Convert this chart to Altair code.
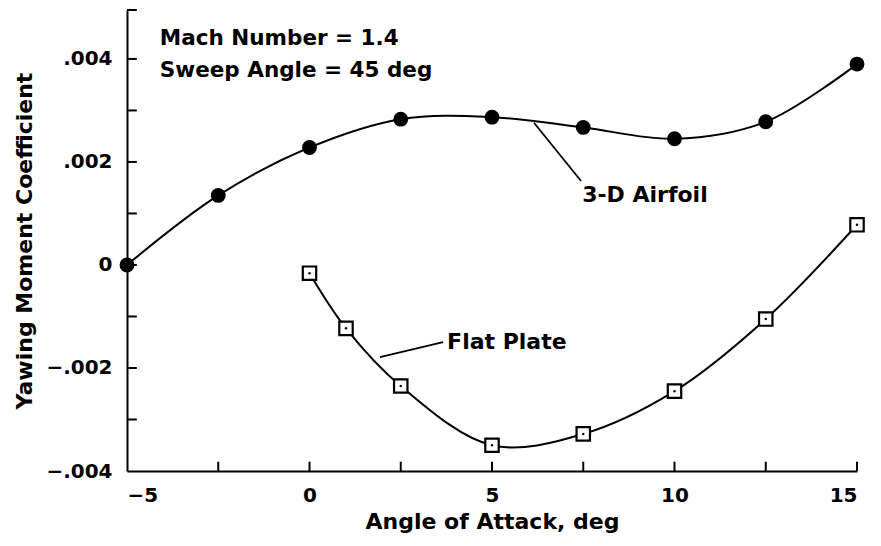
import altair as alt
import pandas as pd

# --- data ---
alpha_airfoil = [-5, -2.5, 0, 2.5, 5, 7.5, 10, 12.5, 15]
cn_airfoil = [0.0000, 0.00135, 0.00228, 0.00283, 0.00287, 0.00267, 0.00245, 0.00278, 0.00390]

alpha_plate = [0, 1, 2.5, 5, 7.5, 10, 12.5, 15]
cn_plate = [-0.00016, -0.00123, -0.00235, -0.00350, -0.00328, -0.00245, -0.00105, 0.00078]

x_label_values = [-5, 0, 5, 10, 15]
y_label_values = [-0.004, -0.002, 0, 0.002, 0.004]
x_tick_values = [-2.5, 0, 2.5, 5, 7.5, 10, 12.5, 15]
y_tick_values = [-0.003, -0.002, -0.001, 0, 0.001, 0.002, 0.003, 0.004, 0.00495]

series_labels = ["3-D Airfoil", "Flat Plate"]
label_x = [7.47, 3.77]
label_y = [0.00122, -0.00163]
leader_x = [6.15, 1.93]
leader_y = [0.00276, -0.00179]
leader_x2 = [7.44, 3.66]
leader_y2 = [0.00163, -0.00150]

note_lines = ["Mach Number = 1.4", "Sweep Angle = 45 deg"]
note_y = [0.00427, 0.00365]

X_DOMAIN = [-5, 15]
Y_DOMAIN = [-0.004, 0.00495]
FONT = "DejaVu Sans"

airfoil = pd.DataFrame({"a": alpha_airfoil, "c": cn_airfoil, "i": range(len(alpha_airfoil))})
plate = pd.DataFrame({"a": alpha_plate, "c": cn_plate, "i": range(len(alpha_plate))})

xs = alt.Scale(domain=X_DOMAIN, nice=False, zero=False)
ys = alt.Scale(domain=Y_DOMAIN, nice=False, zero=False)

x_axis = alt.Axis(values=x_label_values, ticks=False, grid=False, domainColor="black",
                  domainWidth=2, labelFont=FONT, labelFontSize=20, labelFontWeight="bold",
                  labelColor="black", labelPadding=14,
                  labelExpr="replace(datum.label, '-', '−')",
                  title="Angle of Attack, deg", titleFont=FONT, titleFontSize=22,
                  titleFontWeight="bold", titleColor="black", titlePadding=6)
y_axis = alt.Axis(values=y_label_values, ticks=False, grid=False, domainColor="black",
                  domainWidth=2, labelFont=FONT, labelFontSize=20, labelFontWeight="bold",
                  labelColor="black", labelPadding=15,
                  labelExpr="datum.value == 0 ? '0' : (datum.value < 0 ? '−' : '') + replace(format(abs(datum.value), '.3f'), '0.', '.')",
                  title="Yawing Moment Coefficient", titleFont=FONT, titleFontSize=22,
                  titleFontWeight="bold", titleColor="black", titlePadding=9)

base_x = alt.X("a:Q", scale=xs, axis=x_axis)
base_y = alt.Y("c:Q", scale=ys, axis=y_axis)

line_air = alt.Chart(airfoil).mark_line(interpolate="catmull-rom", color="black", strokeWidth=2).encode(
    x=base_x, y=base_y, order="i:Q")
pts_air = alt.Chart(airfoil).mark_point(shape="circle", filled=True, color="black", size=220, opacity=1).encode(
    x=alt.X("a:Q", scale=xs), y=alt.Y("c:Q", scale=ys))

line_plate = alt.Chart(plate).mark_line(interpolate="catmull-rom", color="black", strokeWidth=2).encode(
    x=alt.X("a:Q", scale=xs), y=alt.Y("c:Q", scale=ys), order="i:Q")
pts_plate = alt.Chart(plate).mark_point(shape="square", filled=False, fill="white", fillOpacity=1,
                                        stroke="black", strokeWidth=2.2, size=180, opacity=1).encode(
    x=alt.X("a:Q", scale=xs), y=alt.Y("c:Q", scale=ys))
dots_plate = alt.Chart(plate).mark_point(shape="circle", filled=True, color="black", size=6, opacity=1).encode(
    x=alt.X("a:Q", scale=xs), y=alt.Y("c:Q", scale=ys))

# inward ticks
ytick_df = pd.DataFrame({"v": y_tick_values})
yticks = alt.Chart(ytick_df).mark_rule(color="black", strokeWidth=2).encode(
    x=alt.datum(X_DOMAIN[0], scale=xs), x2=alt.datum(X_DOMAIN[0] + 0.27),
    y=alt.Y("v:Q", scale=ys))
xtick_df = pd.DataFrame({"v": x_tick_values})
xticks = alt.Chart(xtick_df).mark_rule(color="black", strokeWidth=2).encode(
    x=alt.X("v:Q", scale=xs),
    y=alt.datum(Y_DOMAIN[0], scale=ys), y2=alt.datum(Y_DOMAIN[0] + 0.00018))

lab_df = pd.DataFrame({"t": series_labels, "x": label_x, "y": label_y,
                       "lx": leader_x, "ly": leader_y, "lx2": leader_x2, "ly2": leader_y2})
leaders = alt.Chart(lab_df).mark_rule(color="black", strokeWidth=1.8).encode(
    x=alt.X("lx:Q", scale=xs), y=alt.Y("ly:Q", scale=ys), x2="lx2:Q", y2="ly2:Q")
labels = alt.Chart(lab_df).mark_text(align="left", baseline="alphabetic", font=FONT, fontSize=22,
                                     fontWeight="bold", color="black").encode(
    x=alt.X("x:Q", scale=xs), y=alt.Y("y:Q", scale=ys), text="t:N")

note_df = pd.DataFrame({"t": note_lines, "y": note_y})
notes = alt.Chart(note_df).mark_text(align="left", baseline="alphabetic", font=FONT, fontSize=21.5,
                                     fontWeight="bold", color="black").encode(
    x=alt.datum(-4.1, scale=xs), y=alt.Y("y:Q", scale=ys), text="t:N")

chart = alt.layer(line_air, line_plate, leaders, xticks, yticks, pts_air, pts_plate, dots_plate,
                  labels, notes).properties(
    width=730, height=461,
    autosize=alt.AutoSizeParams(type="none"),
    padding={"left": 127, "top": 10, "right": 24, "bottom": 75},
    background="white",
).configure_view(stroke=None)

chart.save("out.html", embed_options={"renderer": "svg", "actions": False})
